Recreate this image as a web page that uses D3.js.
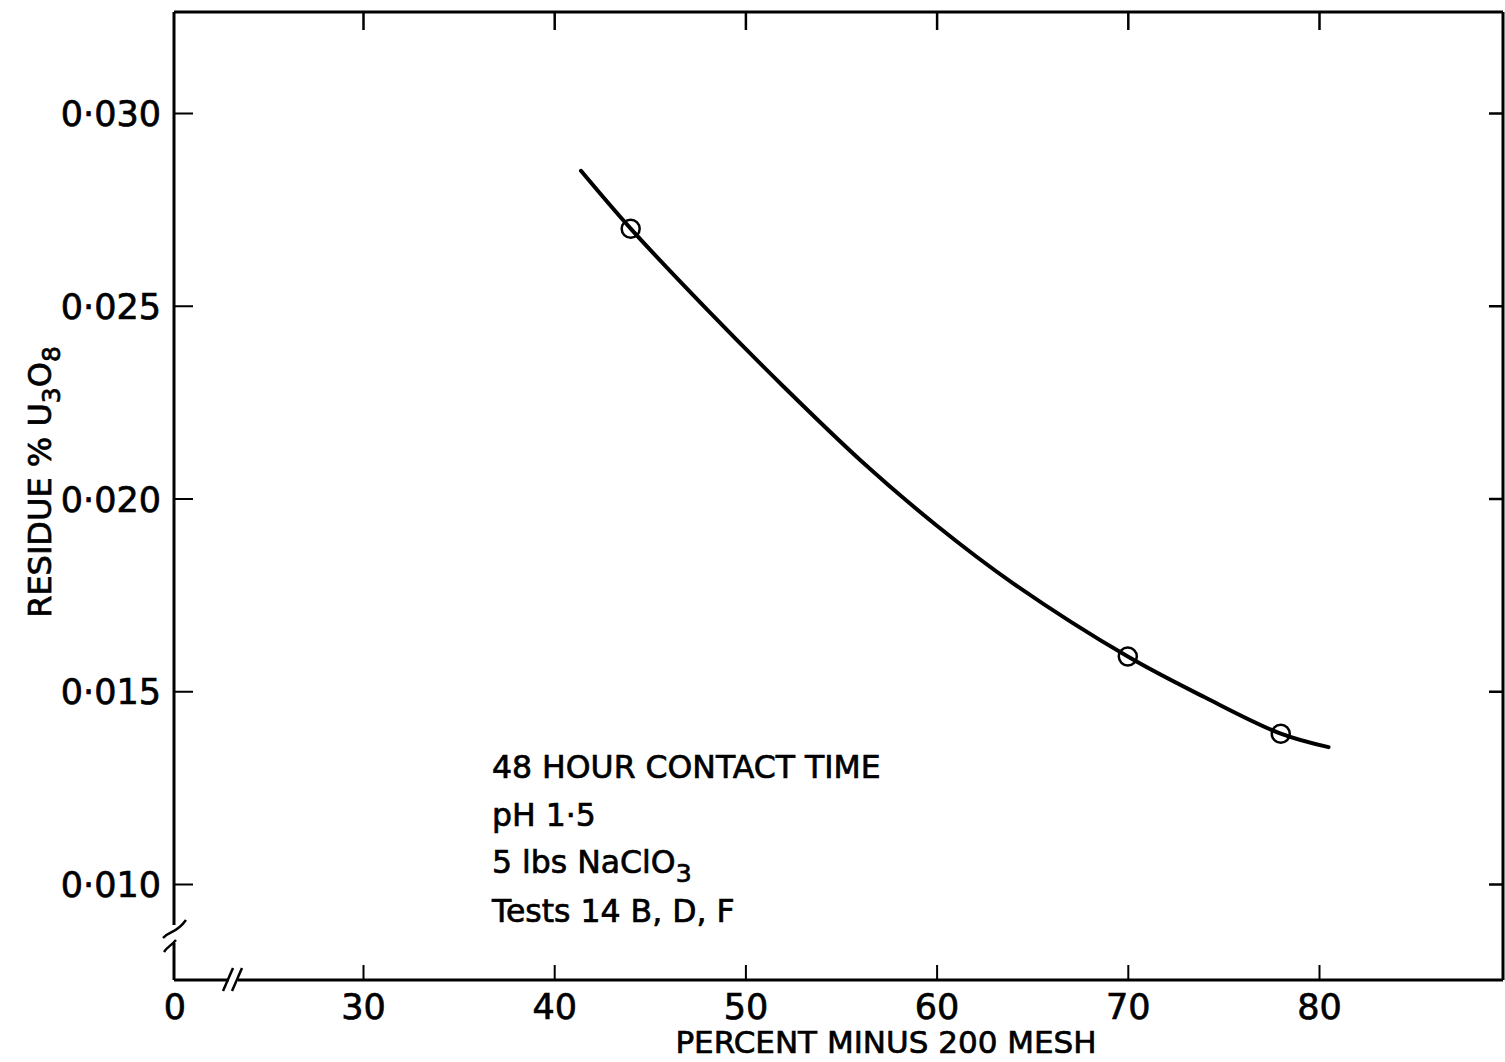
<!DOCTYPE html>
<html lang="en">
<head>
    <meta charset="UTF-8">
    <title>Residue vs percent minus 200 mesh</title>
    <style>
        body { margin: 0; background: #fff; }
        svg text { font-family: "DejaVu Sans", sans-serif; fill: #000; stroke: #000; stroke-width: 0.7px; }
        .frame { stroke: #000; stroke-width: 3; fill: none; }
        .curve { stroke: #000; stroke-width: 4; fill: none; stroke-linecap: round; }
        .pt { stroke: #000; stroke-width: 2.5; fill: none; }
    </style>
</head>
<body>

<svg class="chart" width="1505" height="1062"></svg>

<script src="https://cdn.jsdelivr.net/npm/d3@7/dist/d3.min.js"></script>

<script>

    // measured points
    var pointsX = [44, 70, 78];
    var pointsY = [0.0270, 0.0159, 0.0139];

    // hand-drawn fitted curve
    var curveX = [41.4, 44, 48, 52, 56, 60, 64, 70, 74, 78, 80.5];
    var curveY = [0.0285, 0.0270, 0.0249, 0.0229, 0.0210, 0.0193, 0.0178, 0.0159, 0.01485, 0.0139, 0.01355];

    var xTicks = [30, 40, 50, 60, 70, 80];
    var yTicks = [0.010, 0.015, 0.020, 0.025, 0.030];
    var xBreakLabel = "0";

    var notes = ["48 HOUR CONTACT TIME", "pH 1·5", "5 lbs NaClO|3", "Tests 14 B, D, F"];

    var pLeft = 174, pRight = 1503, pTop = 12, pBottom = 980;

    var x = d3.scaleLinear().domain([30, 80]).range([363, 1319]);
    var y = d3.scaleLinear().domain([0.010, 0.030]).range([884, 113]);

    var fmt = function (d) { return d3.format(".3f")(d).replace(".", "·"); };

    var svg = d3.select(".chart");

    // frame with axis breaks
    var frame = [
        [[pLeft, pTop], [pRight, pTop]],
        [[pRight, pTop], [pRight, pBottom]],
        [[pLeft, pTop], [pLeft, 925]],
        [[pLeft, 943], [pLeft, pBottom]],
        [[pLeft, pBottom], [229, pBottom]],
        [[238, pBottom], [pRight, pBottom]]
    ];
    svg.selectAll("line.frame").data(frame).enter().append("line")
        .attr("class", "frame")
        .attr("x1", function (d) { return d[0][0]; })
        .attr("y1", function (d) { return d[0][1]; })
        .attr("x2", function (d) { return d[1][0]; })
        .attr("y2", function (d) { return d[1][1]; });

    // break marks
    var brk = svg.append("g").attr("fill", "none").attr("stroke", "#000").attr("stroke-width", 2.5);
    brk.append("path").attr("d", "M163,938 C170,930 176,934 186,920");
    brk.append("path").attr("d", "M164,952 C168,946 171,946 176,940");
    brk.append("path").attr("d", "M223,991 L233,968");
    brk.append("path").attr("d", "M232,991 L242,968");

    // y axes (ticks inward on both sides)
    svg.append("g")
        .attr("transform", "translate(" + pLeft + ",0)")
        .call(d3.axisLeft(y).tickValues(yTicks).tickFormat(fmt).tickSizeInner(-19).tickSizeOuter(0).tickPadding(13))
        .call(function (g) {
            g.select(".domain").remove();
            g.selectAll(".tick line").attr("stroke-width", 2);
            g.selectAll(".tick text").attr("font-size", 35).attr("font-family", "DejaVu Sans").attr("dy", "0.36em");
        });

    svg.append("g")
        .attr("transform", "translate(" + pRight + ",0)")
        .call(d3.axisRight(y).tickValues(yTicks).tickFormat("").tickSizeInner(-14).tickSizeOuter(0))
        .call(function (g) {
            g.select(".domain").remove();
            g.selectAll(".tick line").attr("stroke-width", 2.5);
        });

    // x axes
    svg.append("g")
        .attr("transform", "translate(0," + pBottom + ")")
        .call(d3.axisBottom(x).tickValues(xTicks).tickSizeInner(-15).tickSizeOuter(0).tickPadding(14))
        .call(function (g) {
            g.select(".domain").remove();
            g.selectAll(".tick line").attr("stroke-width", 2);
            g.selectAll(".tick text").attr("font-size", 35).attr("font-family", "DejaVu Sans");
        });

    svg.append("g")
        .attr("transform", "translate(0," + pTop + ")")
        .call(d3.axisTop(x).tickValues(xTicks).tickFormat("").tickSizeInner(-18).tickSizeOuter(0))
        .call(function (g) {
            g.select(".domain").remove();
            g.selectAll(".tick line").attr("stroke-width", 2.5);
        });

    svg.append("text")
        .attr("x", pLeft + 1).attr("y", pBottom + 14).attr("dy", "0.71em")
        .attr("text-anchor", "middle").attr("font-size", 35)
        .text(xBreakLabel);

    // axis titles
    svg.append("text")
        .attr("x", 886).attr("y", 1053)
        .attr("text-anchor", "middle").attr("font-size", 31)
        .text("PERCENT MINUS 200 MESH");

    var yt = svg.append("text")
        .attr("transform", "translate(51,482) rotate(-90)")
        .attr("text-anchor", "middle").attr("font-size", 32);
    yt.append("tspan").text("RESIDUE % U");
    yt.append("tspan").attr("dy", 9).attr("font-size", 25).text("3");
    yt.append("tspan").attr("dy", -9).text("O");
    yt.append("tspan").attr("dy", 9).attr("font-size", 25).text("8");

    // curve and points
    var line = d3.line()
        .x(function (d, i) { return x(curveX[i]); })
        .y(function (d, i) { return y(curveY[i]); })
        .curve(d3.curveCatmullRom);

    svg.append("path").attr("class", "curve").attr("d", line(curveX));

    svg.selectAll("circle.pt").data(pointsX).enter().append("circle")
        .attr("class", "pt")
        .attr("cx", function (d) { return x(d); })
        .attr("cy", function (d, i) { return y(pointsY[i]); })
        .attr("r", 9);

    // annotation block
    var noteY = [778, 826, 873, 922];
    notes.forEach(function (n, i) {
        var t = svg.append("text").attr("x", 492).attr("y", noteY[i]).attr("font-size", 31.5);
        var parts = n.split("|");
        t.append("tspan").text(parts[0]);
        if (parts[1]) {
            t.append("tspan").attr("dy", 9).attr("font-size", 25).text(parts[1]);
        }
    });

</script>

</body>
</html>
